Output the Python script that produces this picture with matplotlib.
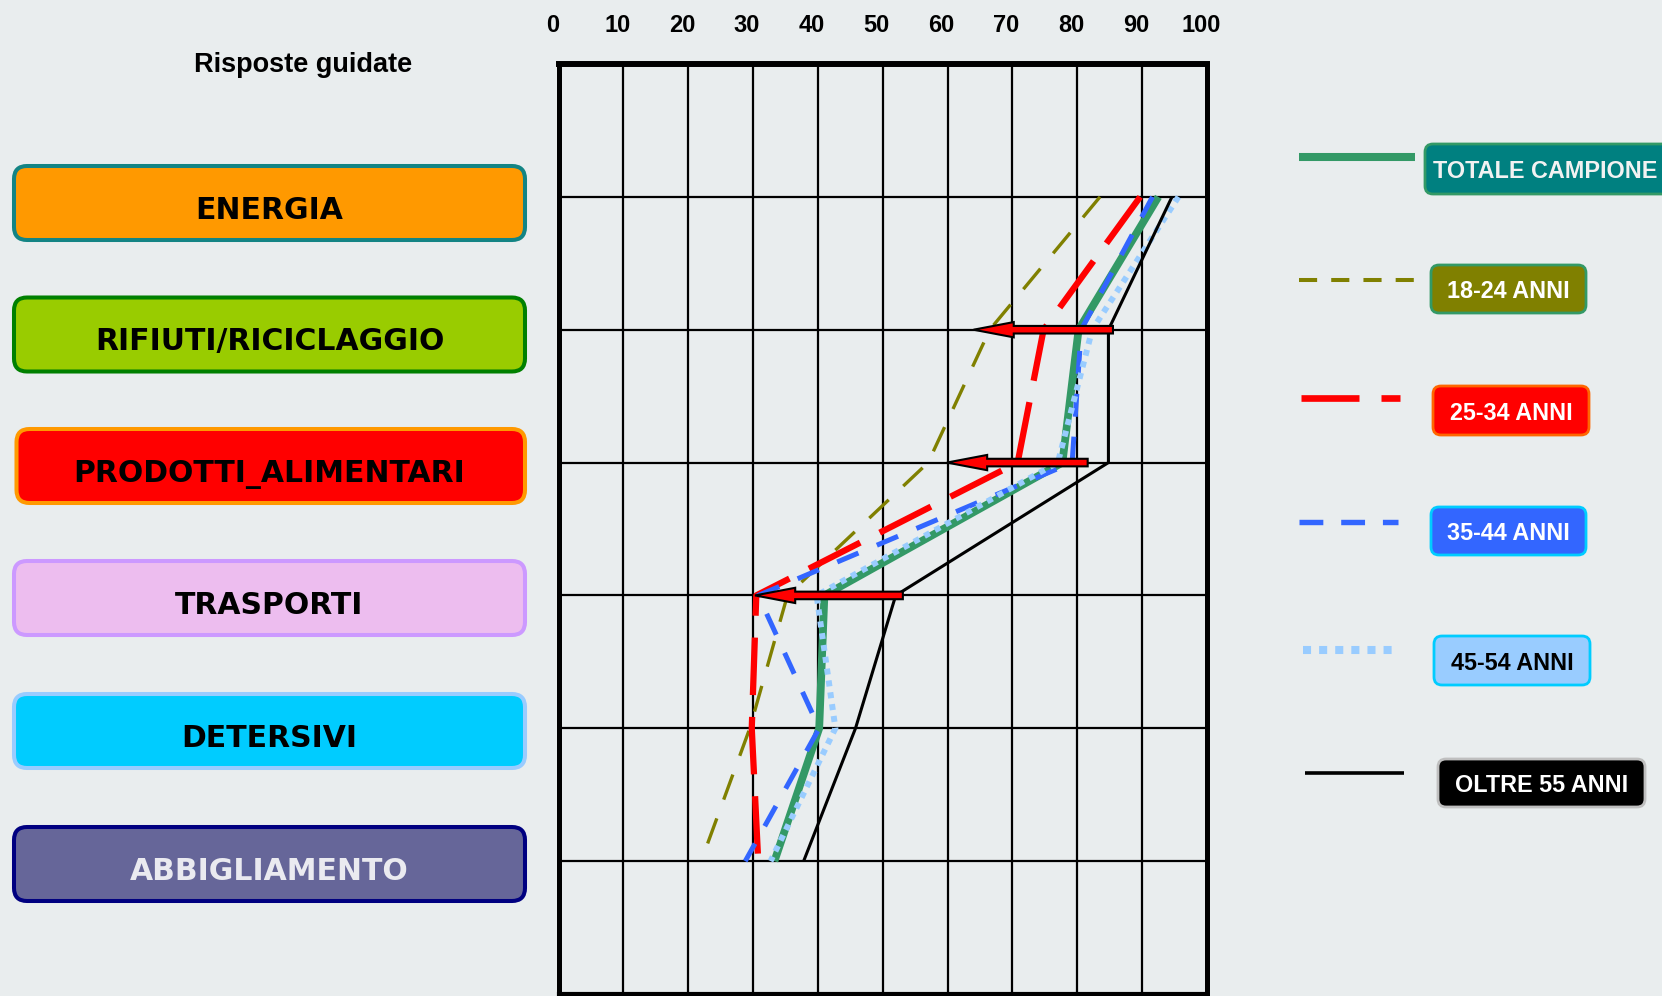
import matplotlib
matplotlib.use('Agg')
import matplotlib.pyplot as plt
from matplotlib.patches import FancyBboxPatch, FancyArrow
from matplotlib.lines import Line2D
from matplotlib.transforms import ScaledTranslation

# --- data (percent of answers) ---
categorie = ['ENERGIA', 'RIFIUTI/RICICLAGGIO', 'PRODOTTI_ALIMENTARI',
             'TRASPORTI', 'DETERSIVI', 'ABBIGLIAMENTO']
righe = [1, 2, 3, 4, 5, 6]

totale = [92.5, 80.2, 77.7, 41.0, 40.2, 33.3]
anni_18_24 = [83.5, 66.5, 57.0, 35.3, 29.5, 22.0]
anni_25_34 = [89.7, 74.8, 70.8, 30.5, 29.8, 30.8]
anni_35_44 = [91.6, 80.6, 79.2, 30.8, 40.2, 28.8]
anni_45_54 = [95.6, 82.3, 77.0, 39.8, 42.7, 32.7]
oltre_55 = [94.6, 84.8, 84.8, 52.0, 45.8, 37.8]

serie_nomi = ['TOTALE CAMPIONE', '18-24 ANNI', '25-34 ANNI',
              '35-44 ANNI', '45-54 ANNI', 'OLTRE 55 ANNI']

# red arrows: row, from, to
freccia_righe = [2, 3, 4]
freccia_da = [85.5, 81.6, 53.1]
freccia_a = [64.0, 59.9, 30.3]

tick_vals = list(range(0, 101, 10))

# --- styles ---
W, H = 1662, 996
bg = '#E9EDEE'
arial = ['Liberation Sans', 'DejaVu Sans']

col_serie = ['#339966', '#808000', '#FF0000', '#3366FF', '#99CCFF', '#000000']
lw_serie = [5.6, 2.4, 4.5, 3.6, 4.3, 2.2]
ls_serie = ['-', (0, (8.0, 6.0)), (0, (9.2, 3.5)), (0, (4.6, 4.0)), (0, (1, 1)), '-']
# legend samples use slightly different strokes
lw_leg = [5.8, 2.9, 4.8, 3.9, 5.8, 2.6]
ls_leg = ['-', (0, (4.5, 3.5)), (0, (8.7, 3.3)), (0, (4.4, 3.3)), (0, (1, 1)), '-']

fig = plt.figure(figsize=(W / 100, H / 100), dpi=100)
fig.patch.set_facecolor(bg)

ax = fig.add_axes([558.5 / W, 1 - 994 / H, (1207 - 558.5) / W, (994 - 64) / H])
ax.set_facecolor(bg)
ax.set_xlim(0, 100)
ax.set_ylim(7, 0)
ax.set_xticks(tick_vals)
ax.set_yticks(righe)
ax.grid(True, color='black', lw=1.6)
ax.set_axisbelow(True)
ax.xaxis.tick_top()
ax.tick_params(axis='x', length=0, pad=19.5, labelsize=17)
ax.tick_params(axis='y', length=0, labelleft=False)
ax.spines['top'].set_linewidth(4.3)
ax.spines['left'].set_linewidth(3.6)
ax.spines['right'].set_linewidth(3.6)
ax.spines['bottom'].set_linewidth(3.0)

serie = [totale, anni_18_24, anni_25_34, anni_35_44, anni_45_54, oltre_55]
ordine = [0, 5, 1, 2, 4, 3]
for k in ordine:
    ax.plot(serie[k], righe, color=col_serie[k], lw=lw_serie[k], ls=ls_serie[k],
            solid_capstyle='butt', dash_capstyle='butt', solid_joinstyle='round',
            zorder=3 + k * 0.1)

for r, x0, x1 in zip(freccia_righe, freccia_da, freccia_a):
    ax.add_patch(FancyArrow(x0, r, x1 - x0, 0, width=0.057, head_width=0.115,
                            head_length=6.2, length_includes_head=True,
                            fc='#FF0000', ec='black', lw=1.5, zorder=10))

for lab in ax.get_xticklabels():
    lab.set_fontweight('bold')
    lab.set_family(arial)
    lab.set_transform(lab.get_transform() + ScaledTranslation(-6 / 100, 0, fig.dpi_scale_trans))

# --- overlay in pixel coordinates for boxes and legend ---
ov = fig.add_axes([0, 0, 1, 1])
ov.set_xlim(0, W)
ov.set_ylim(H, 0)
ov.axis('off')

ov.text(303, 72, 'Risposte guidate', ha='center', va='baseline', fontsize=19.5,
        fontweight='bold', family=arial)

box_y = [203, 334.5, 466, 598, 731, 864]
box_x0 = [14, 14, 16.5, 14, 14, 14]
box_fill = ['#FF9900', '#99CC00', '#FF0000', '#EDBDEF', '#00CCFF', '#666699']
box_edge = ['#138484', '#008000', '#FF9900', '#CC99FF', '#99CCFF', '#000080']
box_txt = ['black', 'black', 'black', 'black', 'black', '#EAEAF0']
cap = 21.5 * 100 / 72 * 0.729
for name, y, x0, fc, ec, tc in zip(categorie, box_y, box_x0, box_fill, box_edge, box_txt):
    ov.add_patch(FancyBboxPatch((x0, y - 37), 525 - x0, 74,
                                boxstyle='round,pad=0,rounding_size=13',
                                fc=fc, ec=ec, lw=2.9))
    ov.text(269.5, y + 5 + cap / 2, name, ha='center', va='baseline',
            fontsize=21.5, fontweight='bold', family='DejaVu Sans', color=tc)

leg_x0 = [1425, 1431, 1433, 1431, 1434, 1438]
leg_x1 = [1680, 1586, 1589, 1586, 1590, 1645]
leg_y0 = [144, 265, 386, 507, 636, 759]
leg_y1 = [194, 313, 435, 555, 685, 807]
leg_fill = ['#008080', '#808000', '#FF0000', '#3366FF', '#99CCFF', '#000000']
leg_edge = ['#339966', '#339966', '#FF6600', '#00CCFF', '#00CCFF', '#BFBFBF']
leg_txt = ['#F2F2F2', 'white', 'white', 'white', 'black', 'white']
leg_tx = [1545.5, None, None, None, None, None]
line_x0 = [1299, 1299, 1301, 1299, 1303, 1305]
line_x1 = [1415, 1415, 1400, 1398, 1398, 1404]
line_y = [157, 280, 398, 522, 650, 773]
lcap = 16.8 * 100 / 72 * 0.716
for i, nome in enumerate(serie_nomi):
    ov.add_patch(FancyBboxPatch((leg_x0[i], leg_y0[i]), leg_x1[i] - leg_x0[i],
                                leg_y1[i] - leg_y0[i],
                                boxstyle='round,pad=0,rounding_size=8',
                                fc=leg_fill[i], ec=leg_edge[i], lw=2.0))
    cx = leg_tx[i] if leg_tx[i] else (leg_x0[i] + leg_x1[i]) / 2
    cy = (leg_y0[i] + leg_y1[i]) / 2
    ov.text(cx, cy + lcap / 2 + 1, nome, ha='center', va='baseline', fontsize=16.8,
            fontweight='bold', family=arial, color=leg_txt[i])
    ov.add_line(Line2D([line_x0[i], line_x1[i]], [line_y[i], line_y[i]],
                       color=col_serie[i], lw=lw_leg[i], ls=ls_leg[i],
                       solid_capstyle='butt', dash_capstyle='butt'))

fig.savefig('out.png', dpi=100, facecolor=bg)
